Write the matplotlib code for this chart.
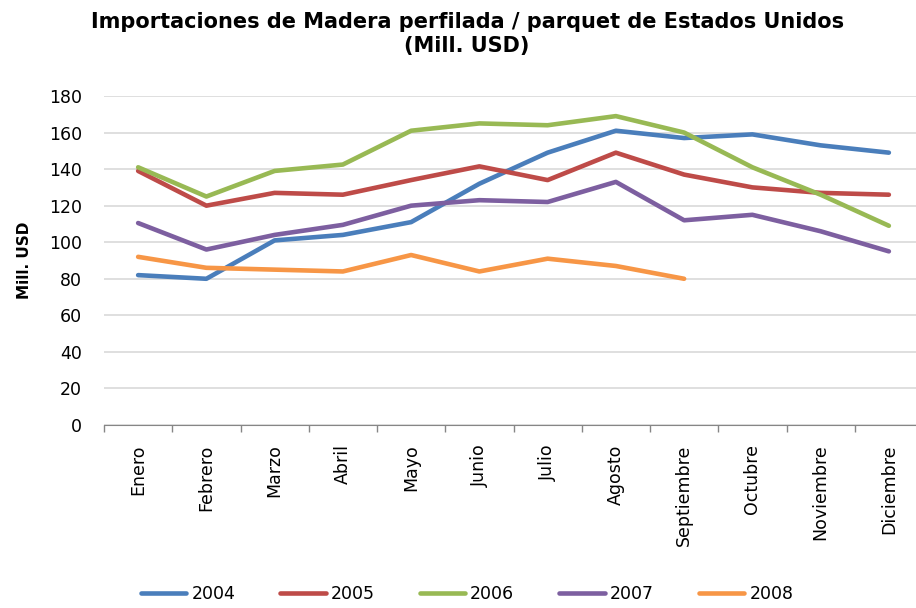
import matplotlib.pyplot as plt
from matplotlib.ticker import FixedLocator

months = ["Enero", "Febrero", "Marzo", "Abril", "Mayo", "Junio", "Julio",
          "Agosto", "Septiembre", "Octubre", "Noviembre", "Diciembre"]
years = ["2004", "2005", "2006", "2007", "2008"]

v2004 = [82, 80, 101, 104, 111, 132, 149, 161, 157, 159, 153, 149]
v2005 = [139, 120, 127, 126, 134, 141.5, 134, 149, 137, 130, 127, 126]
v2006 = [141, 125, 139, 142.5, 161, 165, 164, 169, 160, 141, 126, 109]
v2007 = [110.5, 96, 104, 109.5, 120, 123, 122, 133, 112, 115, 106, 95]
v2008 = [92, 86, 85, 84, 93, 84, 91, 87, 80]

colors = ["#4a7ebb", "#be4b48", "#98b954", "#7d5fa0", "#f79646"]

fig = plt.figure(figsize=(9.16, 6.08), dpi=100)
ax = fig.add_axes([104 / 916, 183 / 608, 819 / 916, 329 / 608])

for vals, c, lab in zip([v2004, v2005, v2006, v2007, v2008], colors, years):
    ax.plot(range(len(vals)), vals, color=c, lw=3.3, label=lab,
            solid_capstyle="round", solid_joinstyle="round")

ax.set_xlim(-0.5, 11.5)
ax.set_ylim(0, 180)
ax.set_yticks(range(0, 181, 20))
ax.yaxis.grid(True, color="#d9d9d9", lw=1.2)
ax.set_axisbelow(True)
ax.tick_params(axis="y", length=0, labelsize=12.5, pad=16)

ax.set_xticks(range(12))
ax.set_xticklabels(months, rotation=90, fontsize=12.5)
ax.tick_params(axis="x", which="major", length=0, pad=14)
ax.xaxis.set_minor_locator(FixedLocator([i - 0.5 for i in range(13)]))
ax.tick_params(axis="x", which="minor", length=5, color="#868686", width=1)

for s in ["top", "right", "left"]:
    ax.spines[s].set_visible(False)
ax.spines["bottom"].set_color("#868686")

ax.set_ylabel("Mill. USD", fontsize=11, fontweight="bold", labelpad=12)
fig.suptitle("Importaciones de Madera perfilada / parquet de Estados Unidos\n(Mill. USD)",
             fontsize=15, fontweight="bold", x=0.51, y=0.98, linespacing=1.25)

fig.legend(loc="lower center", bbox_to_anchor=(0.51, -0.018), ncol=5,
           frameon=False, fontsize=12.5, handlelength=2.6, columnspacing=2.6,
           handletextpad=0.3)

plt.savefig("out.png", format="png")
